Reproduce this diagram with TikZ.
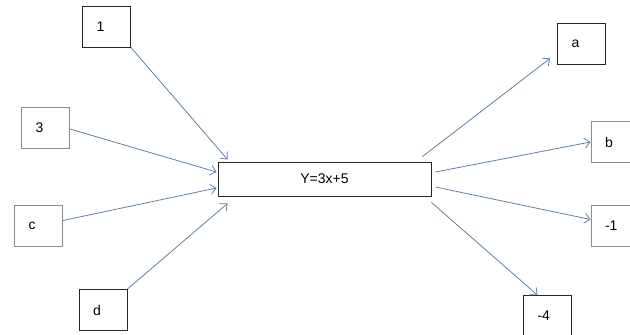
\documentclass[tikz,border=0pt]{standalone}
\usepackage{fontspec}
\setmainfont{Liberation Sans}
\usetikzlibrary{arrows.meta}
\definecolor{arrowblue}{RGB}{95,128,165}
\begin{document}
\begin{tikzpicture}[
        x=1pt, y=-1pt,
        valbox/.style={draw=black!85, line width=0.8pt, text width=20pt, inner xsep=14pt,
                       align=left, minimum height=41pt, font=\fontsize{14}{16}\selectfont},
        paler/.style={draw=black!45},
        funbox/.style={draw=black!85, line width=0.9pt, minimum width=213pt, minimum height=34pt,
                       font=\fontsize{14}{16}\selectfont},
        arr/.style={-{Straight Barb[length=5.5pt,width=10pt]}, arrowblue, line width=0.8pt},
      ]
        \useasboundingbox (0,0) rectangle (630,335);

        \node[funbox] (fn) at (324.5,179) {Y=3x+5};

        % inputs
        \node[valbox]        (in1) at (106.5,26.5) {1};
        \node[valbox, paler] (in3) at (45.5,128)   {3};
        \node[valbox, paler] (inc) at (38.5,225.5) {c};
        \node[valbox]        (ind) at (103,310)    {d};

        % outputs
        \node[valbox]        (outa)  at (581.5,43.5) {a};
        \node[valbox, paler] (outb)  at (615,142)    {b};
        \node[valbox, paler] (outm1) at (615,225.5)  {-1};
        \node[valbox]        (outm4) at (547.5,316)  {-4};

        % arrows into the function
        \draw[arr] (in1.south east) -- ([xshift=10pt,yshift=2pt]fn.north west);
        \draw[arr] ([yshift=-1pt]in3.east) -- ([xshift=-1pt,yshift=7pt]fn.west);
        \draw[arr] ([yshift=5pt]inc.east) -- ([xshift=-1pt,yshift=-9pt]fn.west);
        \draw[arr] (ind.north east) -- ([xshift=10pt,yshift=-7pt]fn.south west);

        % arrows out of the function
        \draw[arr] ([xshift=-9pt,yshift=5pt]fn.north east) -- ([xshift=-7pt,yshift=6pt]outa.south west);
        \draw[arr] ([xshift=4pt,yshift=7pt]fn.east) -- (outb.west);
        \draw[arr] ([xshift=4pt,yshift=-8pt]fn.east) -- ([yshift=6pt]outm1.west);
        \draw[arr] ([yshift=-6pt]fn.south east) -- ([xshift=-10pt]outm4.north);
      \end{tikzpicture}
\end{document}
